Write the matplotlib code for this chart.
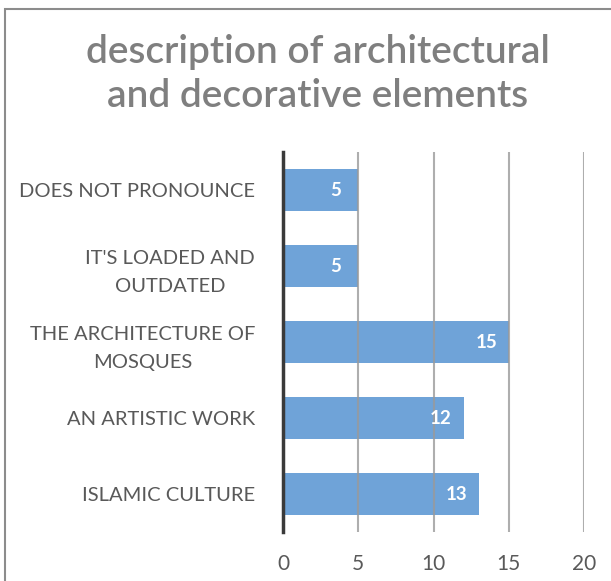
import matplotlib.pyplot as plt
from matplotlib.patches import Rectangle

categories = ["ISLAMIC CULTURE", "AN ARTISTIC WORK", "THE ARCHITECTURE OF\nMOSQUES",
              "IT'S LOADED AND\nOUTDATED", "DOES NOT PRONOUNCE"]
values = [13, 12, 15, 5, 5]
xticks = [0, 5, 10, 15, 20]

plt.rcParams['font.family'] = ['Lato', 'DejaVu Sans']

fig = plt.figure(figsize=(6.11, 5.81), dpi=100)
ax = fig.add_axes([283/611, 1 - 532/581, (584 - 283)/611, (532 - 152)/581])

pos = range(len(categories))
ax.barh(pos, values, height=0.55, color='#6fa3d8', zorder=1)

# light vertical gridlines drawn over the bars
for t in xticks[1:]:
    ax.axvline(t, color='#9a9a9a', lw=1.5, alpha=0.8, zorder=2)

for p, v in zip(pos, values):
    ax.text(v - 1.5, p, str(v), color='white', fontsize=13.5, fontweight='bold',
            ha='center', va='center', zorder=3)

ax.set_xlim(0, 20)
ax.set_ylim(-0.5, len(categories) - 0.5)
ax.set_xticks(xticks)
ax.set_yticks(list(pos))
ax.set_yticklabels(categories, multialignment='center', linespacing=1.75)
ax.tick_params(length=0, labelsize=14.5, colors='#595959')
ax.tick_params(axis='y', pad=20)
ax.tick_params(axis='x', pad=16, labelsize=15)
for s in ['top', 'right', 'bottom']:
    ax.spines[s].set_visible(False)
ax.spines['left'].set_color('#3a3a3a')
ax.spines['left'].set_linewidth(2.5)
ax.spines['left'].set_zorder(4)

fig.text(318/611, 1 - 74/581, "description of architectural\nand decorative elements",
         ha='center', va='center', fontsize=28, color='#7f7f7f',
         fontweight='semibold', linespacing=1.25)

# outer chart frame
fig.patches.append(Rectangle((5/611, -0.5), 1.2, 1 - 9/581 + 0.5,
                             transform=fig.transFigure, fill=False,
                             edgecolor='#8c8c8c', lw=1.5))

fig.savefig('out.png', dpi=100)
